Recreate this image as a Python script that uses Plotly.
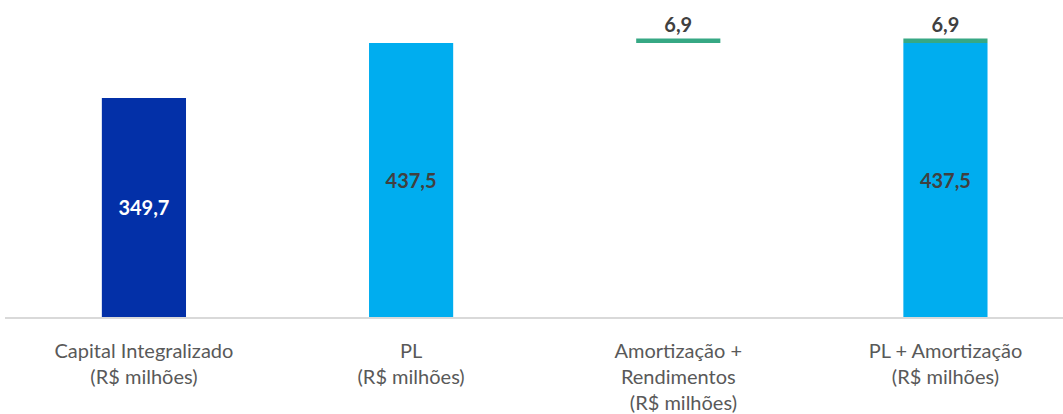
import plotly.graph_objects as go

categories = ["Capital Integralizado<br>(R$ milhões)", "PL<br>(R$ milhões)",
              "Amortização +<br>Rendimentos<br>\u00a0\u00a0(R$ milhões)",
              "PL + Amortização<br>(R$ milhões)"]
base_values = [349.7, 437.5, None, 437.5]
base_colors = ["#0330A8", "#00ADEF", "#00ADEF", "#00ADEF"]
base_text_colors = ["#FFFFFF", "#404040", "#404040", "#404040"]
amort_values = [None, None, 6.9, 6.9]
amort_base = [None, None, 437.5, 437.5]

x = list(range(len(categories)))

fig = go.Figure()
fig.add_trace(go.Bar(
    x=x, y=base_values, marker=dict(color=base_colors, line_width=0), width=0.315,
    texttemplate="%{y:.1f}", textposition="inside", insidetextanchor="middle",
    textfont=dict(family="Lato", size=20, color=base_text_colors, weight="bold"),
    showlegend=False, hoverinfo="skip",
))
fig.add_trace(go.Bar(
    x=x, y=amort_values, base=amort_base, marker=dict(color="#36A884", line_width=0), width=0.315,
    texttemplate="%{y:.1f}", textposition="outside", cliponaxis=False,
    textfont=dict(family="Lato", size=20, color="#404040", weight="bold"),
    showlegend=False, hoverinfo="skip",
))

fig.update_layout(
    template="plotly_white", width=1063, height=414, barmode="overlay",
    separators=",.", margin=dict(l=5, r=0, t=0, b=97),
    plot_bgcolor="white", paper_bgcolor="white",
    uniformtext=dict(mode="show", minsize=10),
)
fig.update_xaxes(tickvals=x, ticktext=categories, range=[-0.52, 3.44],
                 showgrid=False, showline=True, linecolor="#D9D9D9", linewidth=2,
                 ticks="", ticklabelstandoff=15, automargin=False,
                 tickfont=dict(family="Lato", size=20, color="#595959"))
fig.update_yaxes(range=[0, 506], visible=False, showgrid=False, automargin=False)

fig.write_html("out.html", config={"displayModeBar": False},
               post_script="document.body.style.margin='0';")
